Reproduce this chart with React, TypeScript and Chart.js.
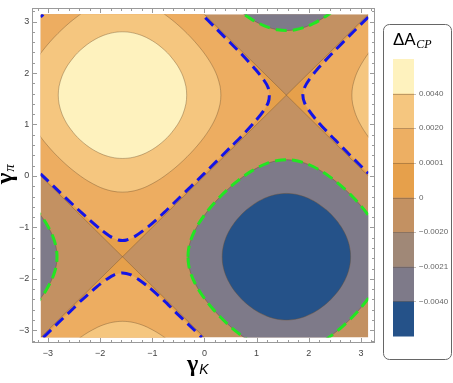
import React, { useEffect, useRef } from 'react';
import { Chart, registerables } from 'chart.js';
Chart.register(...registerables);

type Pt = [number, number];

// ---- axis ticks ----
const xTickValues = [-3, -2, -1, 0, 1, 2, 3];
const yTickValues = [-3, -2, -1, 0, 1, 2, 3];

// ---- contour legend ----
const levelLabels = ['0.0040', '0.0020', '0.0001', '0', '\u22120.0020', '\u22120.0021', '\u22120.0040'];
const levelColors = ['#FEF2BE', '#F5C67F', '#EDAF63', '#E6A04B', '#C39162', '#A08877', '#7E7A89', '#255289'];

// ---- regions (gamma_K, gamma_pi) ----
const domainSquare: Pt[] = [[-3.1416, -3.1416], [3.1416, -3.1416], [3.1416, 3.1416], [-3.1416, 3.1416]];
const positiveUpperLeft: Pt[] = [[-3.1416, 0], [-3.1416, 3.1416], [0, 3.1416], [1.5708, 1.5708], [-1.5708, -1.5708]];
const positiveRight: Pt[] = [[1.5708, 1.5708], [3.1416, 3.1416], [3.1416, 0]];
const positiveBottom: Pt[] = [[-3.1416, -3.1416], [-1.5708, -1.5708], [0, -3.1416]];
const zeroLineA: Pt[] = [[-3.1416, -3.1416], [3.1416, 3.1416]];
const zeroLineB: Pt[] = [[0, 3.1416], [3.1416, 0]];
const zeroLineC: Pt[] = [[-3.1416, 0], [0, -3.1416]];

const blueUpperLeft: Pt[] = [
  [-3.1416, 0.04], [-2.8, -0.29], [-2.5, -0.58], [-2.2, -0.857], [-2.0, -1.03], [-1.8, -1.18], [-1.65, -1.245],
  [-1.571, -1.254], [-1.49, -1.245], [-1.34, -1.18], [-1.07, -0.98], [-0.77, -0.71], [-0.5, -0.443], [0, 0.05],
  [0.5, 0.557], [0.71, 0.77], [0.98, 1.07], [1.135, 1.27], [1.22, 1.42], [1.245, 1.571], [1.22, 1.72],
  [1.135, 1.87], [0.98, 2.07], [0.71, 2.37], [0.5, 2.585], [0.2, 2.89], [-0.05, 3.1416],
];
const blueRight: Pt[] = [
  [3.1416, 3.09], [2.8, 2.747], [2.5, 2.437], [2.43, 2.364], [2.16, 2.07], [2.007, 1.87], [1.92, 1.72],
  [1.887, 1.571], [1.92, 1.42], [2.007, 1.27], [2.16, 1.07], [2.43, 0.777], [2.5, 0.705], [2.8, 0.395], [3.1416, 0.05],
];
const blueBottom: Pt[] = [
  [-3.09, -3.1416], [-2.8, -2.853], [-2.5, -2.563], [-2.37, -2.43], [-2.07, -2.16], [-1.87, -2.007], [-1.72, -1.92],
  [-1.571, -1.887], [-1.42, -1.92], [-1.27, -2.007], [-1.07, -2.16], [-0.77, -2.43], [-0.5, -2.70], [-0.2, -2.99], [-0.05, -3.1416],
];
const blueCorner: Pt[] = [[-3.1416, 3.09], [-3.09, 3.1416]];

const creamContour: Pt[] = [
  [-1.571, 0.340], [-1.469, 0.345], [-1.376, 0.360], [-1.296, 0.380], [-1.206, 0.410], [-1.115, 0.450], [-0.990, 0.520],
  [-0.876, 0.600], [-0.760, 0.700], [-0.663, 0.800], [-0.514, 1.000], [-0.413, 1.200], [-0.355, 1.400], [-0.340, 1.571],
  [-0.355, 1.742], [-0.413, 1.942], [-0.514, 2.142], [-0.663, 2.342], [-0.760, 2.442], [-0.876, 2.542], [-0.990, 2.622],
  [-1.115, 2.692], [-1.206, 2.732], [-1.296, 2.762], [-1.376, 2.782], [-1.469, 2.797], [-1.571, 2.802], [-1.673, 2.797],
  [-1.766, 2.782], [-1.846, 2.762], [-1.936, 2.732], [-2.027, 2.692], [-2.152, 2.622], [-2.266, 2.542], [-2.382, 2.442],
  [-2.479, 2.342], [-2.628, 2.142], [-2.729, 1.942], [-2.787, 1.742], [-2.802, 1.571], [-2.787, 1.400], [-2.729, 1.200],
  [-2.628, 1.000], [-2.479, 0.800], [-2.382, 0.700], [-2.266, 0.600], [-2.152, 0.520], [-2.027, 0.450], [-1.936, 0.410],
  [-1.846, 0.380], [-1.766, 0.360], [-1.673, 0.345],
];
const darkContour: Pt[] = [
  [0.340, -1.571], [0.345, -1.469], [0.360, -1.376], [0.380, -1.296], [0.410, -1.206], [0.450, -1.115], [0.520, -0.990],
  [0.600, -0.876], [0.700, -0.760], [0.800, -0.663], [1.000, -0.514], [1.200, -0.413], [1.400, -0.355], [1.571, -0.340],
  [1.742, -0.355], [1.942, -0.413], [2.142, -0.514], [2.342, -0.663], [2.442, -0.760], [2.542, -0.876], [2.622, -0.990],
  [2.692, -1.115], [2.732, -1.206], [2.762, -1.296], [2.782, -1.376], [2.797, -1.469], [2.802, -1.571], [2.797, -1.673],
  [2.782, -1.766], [2.762, -1.846], [2.732, -1.936], [2.692, -2.027], [2.622, -2.152], [2.542, -2.266], [2.442, -2.382],
  [2.342, -2.479], [2.142, -2.628], [1.942, -2.729], [1.742, -2.787], [1.571, -2.802], [1.400, -2.787], [1.200, -2.729],
  [1.000, -2.628], [0.800, -2.479], [0.700, -2.382], [0.600, -2.266], [0.520, -2.152], [0.450, -2.027], [0.410, -1.936],
  [0.380, -1.846], [0.360, -1.766], [0.345, -1.673],
];
const lightContour: Pt[] = [
  [-1.571, -0.315], [-1.472, -0.310], [-1.349, -0.290], [-1.214, -0.250], [-1.094, -0.200], [-0.911, -0.100], [-0.762, 0.000],
  [-0.571, 0.150], [-0.406, 0.300], [-0.258, 0.450], [-0.126, 0.600], [-0.008, 0.750], [0.093, 0.900], [0.178, 1.050],
  [0.244, 1.200], [0.300, 1.400], [0.315, 1.571], [0.300, 1.742], [0.244, 1.942], [0.178, 2.092], [0.093, 2.242],
  [-0.008, 2.392], [-0.126, 2.542], [-0.258, 2.692], [-0.406, 2.842], [-0.571, 2.992], [-0.762, 3.142], [-0.911, 3.242],
  [-1.094, 3.342], [-1.214, 3.392], [-1.349, 3.432], [-1.472, 3.452], [-1.571, 3.457], [-1.670, 3.452], [-1.793, 3.432],
  [-1.928, 3.392], [-2.048, 3.342], [-2.231, 3.242], [-2.380, 3.142], [-2.571, 2.992], [-2.736, 2.842], [-2.884, 2.692],
  [-3.016, 2.542], [-3.134, 2.392], [-3.235, 2.242], [-3.320, 2.092], [-3.386, 1.942], [-3.442, 1.742], [-3.457, 1.571],
  [-3.442, 1.400], [-3.386, 1.200], [-3.320, 1.050], [-3.235, 0.900], [-3.134, 0.750], [-3.016, 0.600], [-2.884, 0.450],
  [-2.736, 0.300], [-2.571, 0.150], [-2.380, 0.000], [-2.231, -0.100], [-2.048, -0.200], [-1.928, -0.250], [-1.793, -0.290],
  [-1.670, -0.310],
];
const grayContour: Pt[] = [
  [-0.315, -1.571], [-0.310, -1.472], [-0.290, -1.349], [-0.250, -1.214], [-0.200, -1.094], [-0.100, -0.911], [0.000, -0.762],
  [0.150, -0.571], [0.300, -0.406], [0.450, -0.258], [0.600, -0.126], [0.750, -0.008], [0.900, 0.093], [1.050, 0.178],
  [1.200, 0.244], [1.400, 0.300], [1.571, 0.315], [1.742, 0.300], [1.942, 0.244], [2.092, 0.178], [2.242, 0.093],
  [2.392, -0.008], [2.542, -0.126], [2.692, -0.258], [2.842, -0.406], [2.992, -0.571], [3.142, -0.762], [3.242, -0.911],
  [3.342, -1.094], [3.392, -1.214], [3.432, -1.349], [3.452, -1.472], [3.457, -1.571], [3.452, -1.670], [3.432, -1.793],
  [3.392, -1.928], [3.342, -2.048], [3.242, -2.231], [3.142, -2.380], [2.992, -2.571], [2.842, -2.736], [2.692, -2.884],
  [2.542, -3.016], [2.392, -3.134], [2.242, -3.235], [2.092, -3.320], [1.942, -3.386], [1.742, -3.442], [1.571, -3.457],
  [1.400, -3.442], [1.200, -3.386], [1.050, -3.320], [0.900, -3.235], [0.750, -3.134], [0.600, -3.016], [0.450, -2.884],
  [0.300, -2.736], [0.150, -2.571], [0.000, -2.380], [-0.100, -2.231], [-0.200, -2.048], [-0.250, -1.928], [-0.290, -1.793],
  [-0.310, -1.670],
];
// periodic images (period 2*pi) of the blobs that reach the plot edges
const lightImages: Pt[] = [[0, 0], [0, -6.2832], [6.2832, 0]];
const grayImages: Pt[] = [[0, 0], [-6.2832, 0], [0, 6.2832]];

const toXY = (pts: Pt[], dx = 0, dy = 0) => pts.map(([x, y]) => ({ x: x + dx, y: y + dy }));
const closed = (pts: Pt[]): Pt[] => [...pts, pts[0]];
const fmt = (v: number) => (v < 0 ? '\u2212' + Math.abs(v) : String(v));

const CONTOUR_LINE = 'rgba(110,80,45,0.5)';

function areaSet(pts: Pt[], color: string, border = 0, tension = 0, dx = 0, dy = 0) {
  return {
    data: toXY(pts, dx, dy), backgroundColor: color, borderColor: border ? CONTOUR_LINE : 'rgba(0,0,0,0)',
    borderWidth: border, fill: 'shape', pointRadius: 0, pointHoverRadius: 0, tension,
  };
}
function lineSet(pts: Pt[], color: string, width: number, dash: number[] = [], tension = 0, dx = 0, dy = 0) {
  return {
    data: toXY(pts, dx, dy), borderColor: color, borderWidth: width, borderDash: dash, fill: false,
    pointRadius: 0, pointHoverRadius: 0, tension, borderCapStyle: 'butt',
  };
}

const squareClip = {
  id: 'squareClip',
  beforeDatasetsDraw(chart: any) {
    const { ctx, scales } = chart;
    const l = scales.x.getPixelForValue(-Math.PI), r = scales.x.getPixelForValue(Math.PI);
    const t = scales.y.getPixelForValue(Math.PI), b = scales.y.getPixelForValue(-Math.PI);
    ctx.save();
    ctx.beginPath();
    ctx.rect(l, t, r - l, b - t);
    ctx.clip();
  },
  afterDatasetsDraw(chart: any) {
    chart.ctx.restore();
  },
};

const decorations = {
  id: 'decorations',
  afterDraw(chart: any) {
    const { ctx, chartArea: a, scales } = chart;
    ctx.save();
    // frame
    ctx.strokeStyle = '#9a9a9a';
    ctx.lineWidth = 1;
    const L = Math.round(a.left) + 0.5, R = Math.round(a.right) - 0.5, T = Math.round(a.top) + 0.5, B = Math.round(a.bottom) - 0.5;
    ctx.strokeRect(L, T, R - L, B - T);
    // ticks
    ctx.beginPath();
    for (let k = -16; k <= 16; k++) {
      const v = k / 5;
      const len = k % 5 === 0 ? 4.5 : 2.5;
      const px = Math.round(scales.x.getPixelForValue(v)) + 0.5;
      ctx.moveTo(px, B); ctx.lineTo(px, B - len);
      ctx.moveTo(px, T); ctx.lineTo(px, T + len);
      const py = Math.round(scales.y.getPixelForValue(v)) + 0.5;
      ctx.moveTo(L, py); ctx.lineTo(L + len, py);
      ctx.moveTo(R, py); ctx.lineTo(R - len, py);
    }
    ctx.stroke();

    // axis titles
    ctx.fillStyle = '#000';
    ctx.textAlign = 'left';
    ctx.textBaseline = 'alphabetic';
    ctx.font = 'bold 24px "Liberation Serif"';
    ctx.fillText('\u03B3', 187, 371);
    const gw = ctx.measureText('\u03B3').width;
    ctx.font = 'italic 14px "Liberation Sans"';
    ctx.fillText('K', 187 + gw + 1, 373.5);

    ctx.save();
    ctx.translate(12, 184);
    ctx.rotate(-Math.PI / 2);
    ctx.font = 'bold 24px "Liberation Serif"';
    ctx.fillText('\u03B3', 0, 0);
    const gw2 = ctx.measureText('\u03B3').width;
    ctx.font = 'italic 15px "Liberation Serif"';
    ctx.fillText('\u03C0', gw2 + 1, 2);
    ctx.restore();

    // colour bar legend
    ctx.strokeStyle = '#666';
    ctx.lineWidth = 1;
    ctx.beginPath();
    ctx.roundRect(383.5, 24.5, 68, 335, 6);
    ctx.stroke();
    ctx.fillStyle = '#000';
    ctx.font = '17px "Liberation Sans"';
    ctx.fillText('\u0394A', 393, 45);
    const dw = ctx.measureText('\u0394A').width;
    ctx.font = 'italic 12px "Liberation Serif"';
    ctx.fillText('CP', 393 + dw + 0.5, 47.5);

    const bx = 393, by = 59, bw = 21, bh = 277;
    const step = bh / levelColors.length;
    levelColors.forEach((c, i) => {
      ctx.fillStyle = c;
      ctx.fillRect(bx, by + i * step, bw, step + 0.5);
    });
    ctx.strokeStyle = 'rgba(90,70,50,0.35)';
    ctx.beginPath();
    for (let i = 1; i < levelColors.length; i++) {
      const yy = Math.round(by + i * step) + 0.5;
      ctx.moveTo(bx, yy); ctx.lineTo(bx + bw + 2, yy);
    }
    ctx.stroke();
    ctx.fillStyle = '#666';
    ctx.font = '8px "Liberation Sans"';
    ctx.textBaseline = 'middle';
    levelLabels.forEach((t, i) => {
      ctx.fillText(t, bx + bw + 5, by + (i + 1) * step);
    });
    ctx.restore();
  },
};

export default function App() {
  const ref = useRef<HTMLCanvasElement>(null);
  useEffect(() => {
    document.body.style.margin = '0';
    if (!ref.current) return;
    const datasets: any[] = [];
    datasets.push(areaSet(domainSquare, '#C39162'));
    datasets.push(areaSet(positiveUpperLeft, '#E6A04B'));
    datasets.push(areaSet(positiveRight, '#E6A04B'));
    datasets.push(areaSet(positiveBottom, '#E6A04B'));
    datasets.push(areaSet([...blueUpperLeft, [-3.09, 3.1416], [-3.1416, 3.09]], '#EDAD61', 0, 0.25));
    datasets.push(areaSet(blueRight, '#EDAD61', 0, 0.25));
    datasets.push(areaSet(blueBottom, '#EDAD61', 0, 0.25));
    datasets.push(lineSet(zeroLineA, CONTOUR_LINE, 0.8));
    datasets.push(lineSet(zeroLineB, CONTOUR_LINE, 0.8));
    datasets.push(lineSet(zeroLineC, CONTOUR_LINE, 0.8));
    lightImages.forEach(([dx, dy]) => datasets.push(areaSet(closed(lightContour), '#F5C67F', 0.8, 0.3, dx, dy)));
    datasets.push(areaSet(closed(creamContour), '#FEF2BE', 0.8, 0.3));
    grayImages.forEach(([dx, dy]) => datasets.push(areaSet(closed(grayContour), '#7E7A89', 0.8, 0.3, dx, dy)));
    datasets.push(areaSet(closed(darkContour), '#255289', 0.8, 0.3));
    grayImages.forEach(([dx, dy]) => datasets.push(lineSet(closed(grayContour), '#22E622', 3, [11, 6], 0.3, dx, dy)));
    datasets.push(lineSet(blueUpperLeft, '#1414E6', 3, [11, 6], 0.25));
    datasets.push(lineSet(blueRight, '#1414E6', 3, [11, 6], 0.25));
    datasets.push(lineSet(blueBottom, '#1414E6', 3, [11, 6], 0.25));
    datasets.push(lineSet(blueCorner, '#1414E6', 3));
    const n = datasets.length;
    datasets.forEach((d, i) => { d.order = n - i; });

    const tickFont = { family: '"Liberation Sans"', size: 9 };
    const chart = new Chart(ref.current, {
      type: 'line',
      data: { datasets },
      options: {
        animation: false,
        responsive: false,
        events: [],
        layout: { padding: { left: 0, right: 78, top: 1.5, bottom: 0 } },
        plugins: { legend: { display: false }, tooltip: { enabled: false } },
        scales: {
          x: {
            type: 'linear', min: -3.30, max: 3.27,
            afterBuildTicks: (s: any) => { s.ticks = xTickValues.map((v) => ({ value: v })); },
            afterFit: (s: any) => { s.height = 40.3; },
            ticks: { callback: (v: any) => fmt(Number(v)), font: tickFont, color: '#444', padding: 5, maxRotation: 0, autoSkip: false },
            grid: { display: false, drawTicks: false },
            border: { display: false },
          },
          y: {
            type: 'linear', min: -3.242, max: 3.257,
            afterBuildTicks: (s: any) => { s.ticks = yTickValues.map((v) => ({ value: v })); },
            afterFit: (s: any) => { s.width = 32.3; },
            ticks: { callback: (v: any) => fmt(Number(v)), font: tickFont, color: '#444', padding: 3, autoSkip: false },
            grid: { display: false, drawTicks: false },
            border: { display: false },
          },
        },
      } as any,
      plugins: [squareClip, decorations],
    });
    return () => chart.destroy();
  }, []);
  return <canvas ref={ref} width={453} height={383} style={{ display: 'block' }} />;
}
